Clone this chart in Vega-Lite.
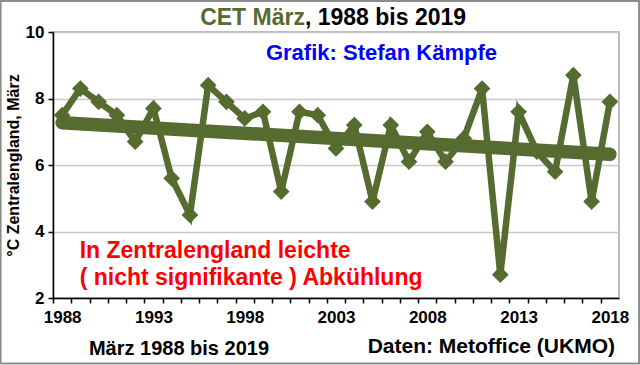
{
  "$schema": "https://vega.github.io/schema/vega-lite/v6.json",
  "width": 566,
  "height": 266,
  "autosize": {"type": "none"},
  "padding": {"left": 53, "top": 32, "right": 21, "bottom": 67},
  "background": "white",
  "config": {
    "font": "Liberation Sans",
    "view": {"stroke": "#a6a6a6", "strokeWidth": 1.5},
    "axisX": {
      "domainColor": "black", "domainWidth": 1.5,
      "tickColor": "black", "tickWidth": 1.5, "tickSize": 5,
      "labelFontSize": 17, "labelFontWeight": "bold", "labelColor": "black",
      "labelPadding": 6, "labelFlush": false, "labelOverlap": false, "grid": false
    },
    "axisY": {
      "domainColor": "black", "domainWidth": 1.5,
      "tickColor": "black", "tickWidth": 1.5, "tickSize": 5,
      "labelFontSize": 17, "labelFontWeight": "bold", "labelColor": "black",
      "labelPadding": 4, "labelFlush": false,
      "grid": true, "gridColor": "#c8c8c8", "gridWidth": 1.5,
      "titleFontSize": 16, "titleFontWeight": "bold", "titleColor": "black", "titlePadding": 4
    }
  },
  "datasets": {
    "cet": [
      {"year": 1988, "temp": 7.5}, {"year": 1989, "temp": 8.3}, {"year": 1990, "temp": 7.9},
      {"year": 1991, "temp": 7.5}, {"year": 1992, "temp": 6.7}, {"year": 1993, "temp": 7.7},
      {"year": 1994, "temp": 5.6}, {"year": 1995, "temp": 4.5}, {"year": 1996, "temp": 8.4},
      {"year": 1997, "temp": 7.9}, {"year": 1998, "temp": 7.4}, {"year": 1999, "temp": 7.6},
      {"year": 2000, "temp": 5.2}, {"year": 2001, "temp": 7.6}, {"year": 2002, "temp": 7.5},
      {"year": 2003, "temp": 6.5}, {"year": 2004, "temp": 7.2}, {"year": 2005, "temp": 4.9},
      {"year": 2006, "temp": 7.2}, {"year": 2007, "temp": 6.1}, {"year": 2008, "temp": 7.0},
      {"year": 2009, "temp": 6.1}, {"year": 2010, "temp": 6.8}, {"year": 2011, "temp": 8.3},
      {"year": 2012, "temp": 2.7}, {"year": 2013, "temp": 7.6}, {"year": 2014, "temp": 6.4},
      {"year": 2015, "temp": 5.8}, {"year": 2016, "temp": 8.7}, {"year": 2017, "temp": 4.9},
      {"year": 2018, "temp": 7.9}
    ],
    "trend": [
      {"year": 1988, "temp": 7.27},
      {"year": 2018, "temp": 6.32}
    ]
  },
  "layer": [
    {
      "data": {"name": "cet"},
      "mark": {"type": "line", "color": "#556B2F", "strokeWidth": 6.5, "strokeJoin": "miter",
               "point": {"shape": "diamond", "size": 280, "filled": true, "color": "#556B2F", "opacity": 1}},
      "encoding": {
        "x": {"field": "year", "type": "quantitative", "title": null,
              "scale": {"domain": [1987.5, 2018.5], "nice": false, "zero": false},
              "axis": {"values": [1988,1989,1990,1991,1992,1993,1994,1995,1996,1997,1998,1999,2000,2001,2002,2003,2004,2005,2006,2007,2008,2009,2010,2011,2012,2013,2014,2015,2016,2017,2018,2019], "tickOffset": -9.13, "labelOffset": 9.13, "labelExpr": "(datum.value % 5 == 3 && datum.value < 2019) ? ('' + datum.value) : ''"}},
        "y": {"field": "temp", "type": "quantitative", "title": "°C Zentralengland, März",
              "scale": {"domain": [2, 10], "nice": false, "zero": false},
              "axis": {"values": [2, 4, 6, 8, 10]}}
      }
    },
    {
      "data": {"name": "trend"},
      "mark": {"type": "line", "color": "#556B2F", "strokeWidth": 13.5, "strokeCap": "round"},
      "encoding": {
        "x": {"field": "year", "type": "quantitative", "title": null,
              "scale": {"domain": [1987.5, 2018.5], "nice": false, "zero": false},
              "axis": {"values": [1988,1989,1990,1991,1992,1993,1994,1995,1996,1997,1998,1999,2000,2001,2002,2003,2004,2005,2006,2007,2008,2009,2010,2011,2012,2013,2014,2015,2016,2017,2018,2019], "tickOffset": -9.13, "labelOffset": 9.13, "labelExpr": "(datum.value % 5 == 3 && datum.value < 2019) ? ('' + datum.value) : ''"}},
        "y": {"field": "temp", "type": "quantitative", "title": "°C Zentralengland, März",
              "scale": {"domain": [2, 10], "nice": false, "zero": false},
              "axis": {"values": [2, 4, 6, 8, 10]}}
      }
    },
    {
      "data": {"values": [{"label": "frame"}]},
      "mark": {"type": "rect", "fill": null, "stroke": "#8c8c8c", "strokeWidth": 2, "clip": false},
      "encoding": {
        "x": {"datum": 1984.63, "type": "quantitative", "title": null,
              "axis": {"values": [1988,1989,1990,1991,1992,1993,1994,1995,1996,1997,1998,1999,2000,2001,2002,2003,2004,2005,2006,2007,2008,2009,2010,2011,2012,2013,2014,2015,2016,2017,2018,2019], "tickOffset": -9.13, "labelOffset": 9.13, "labelExpr": "(datum.value % 5 == 3 && datum.value < 2019) ? ('' + datum.value) : ''"}},
        "x2": {"datum": 2019.6},
        "y": {"datum": 10.93, "type": "quantitative", "title": "°C Zentralengland, März", "axis": {"values": [2, 4, 6, 8, 10]}},
        "y2": {"datum": 0.03}
      }
    },
    {
      "data": {"values": [{"label": "CET März"}]},
      "mark": {"type": "text", "align": "right", "baseline": "middle", "fontSize": 23, "fontWeight": "bold", "color": "#556B2F", "clip": false},
      "encoding": {
        "x": {"datum": 2001.3, "type": "quantitative", "title": null,
              "axis": {"values": [1988,1989,1990,1991,1992,1993,1994,1995,1996,1997,1998,1999,2000,2001,2002,2003,2004,2005,2006,2007,2008,2009,2010,2011,2012,2013,2014,2015,2016,2017,2018,2019], "tickOffset": -9.13, "labelOffset": 9.13, "labelExpr": "(datum.value % 5 == 3 && datum.value < 2019) ? ('' + datum.value) : ''"}},
        "y": {"datum": 10.42, "type": "quantitative", "title": "°C Zentralengland, März", "axis": {"values": [2, 4, 6, 8, 10]}},
        "text": {"field": "label"}}
    },
    {
      "data": {"values": [{"label": ", 1988 bis 2019"}]},
      "mark": {"type": "text", "align": "left", "baseline": "middle", "fontSize": 23, "fontWeight": "bold", "color": "black", "clip": false},
      "encoding": {
        "x": {"datum": 2001.3, "type": "quantitative", "title": null,
              "axis": {"values": [1988,1989,1990,1991,1992,1993,1994,1995,1996,1997,1998,1999,2000,2001,2002,2003,2004,2005,2006,2007,2008,2009,2010,2011,2012,2013,2014,2015,2016,2017,2018,2019], "tickOffset": -9.13, "labelOffset": 9.13, "labelExpr": "(datum.value % 5 == 3 && datum.value < 2019) ? ('' + datum.value) : ''"}},
        "y": {"datum": 10.42, "type": "quantitative", "title": "°C Zentralengland, März", "axis": {"values": [2, 4, 6, 8, 10]}},
        "text": {"field": "label"}}
    },
    {
      "data": {"values": [{"label": "Grafik: Stefan Kämpfe"}]},
      "mark": {"type": "text", "align": "center", "baseline": "middle", "fontSize": 22, "fontWeight": "bold", "color": "#0000FF", "clip": false},
      "encoding": {
        "x": {"datum": 2005.49, "type": "quantitative", "title": null,
              "axis": {"values": [1988,1989,1990,1991,1992,1993,1994,1995,1996,1997,1998,1999,2000,2001,2002,2003,2004,2005,2006,2007,2008,2009,2010,2011,2012,2013,2014,2015,2016,2017,2018,2019], "tickOffset": -9.13, "labelOffset": 9.13, "labelExpr": "(datum.value % 5 == 3 && datum.value < 2019) ? ('' + datum.value) : ''"}},
        "y": {"datum": 9.38, "type": "quantitative", "title": "°C Zentralengland, März", "axis": {"values": [2, 4, 6, 8, 10]}},
        "text": {"field": "label"}}
    },
    {
      "data": {"values": [{"label": "In Zentralengland leichte"}]},
      "mark": {"type": "text", "align": "left", "baseline": "middle", "fontSize": 23, "fontWeight": "bold", "color": "#FF0000", "clip": false},
      "encoding": {
        "x": {"datum": 1988.96, "type": "quantitative", "title": null,
              "axis": {"values": [1988,1989,1990,1991,1992,1993,1994,1995,1996,1997,1998,1999,2000,2001,2002,2003,2004,2005,2006,2007,2008,2009,2010,2011,2012,2013,2014,2015,2016,2017,2018,2019], "tickOffset": -9.13, "labelOffset": 9.13, "labelExpr": "(datum.value % 5 == 3 && datum.value < 2019) ? ('' + datum.value) : ''"}},
        "y": {"datum": 3.42, "type": "quantitative", "title": "°C Zentralengland, März", "axis": {"values": [2, 4, 6, 8, 10]}},
        "text": {"field": "label"}}
    },
    {
      "data": {"values": [{"label": "( nicht signifikante ) Abkühlung"}]},
      "mark": {"type": "text", "align": "left", "baseline": "middle", "fontSize": 23, "fontWeight": "bold", "color": "#FF0000", "clip": false},
      "encoding": {
        "x": {"datum": 1988.96, "type": "quantitative", "title": null,
              "axis": {"values": [1988,1989,1990,1991,1992,1993,1994,1995,1996,1997,1998,1999,2000,2001,2002,2003,2004,2005,2006,2007,2008,2009,2010,2011,2012,2013,2014,2015,2016,2017,2018,2019], "tickOffset": -9.13, "labelOffset": 9.13, "labelExpr": "(datum.value % 5 == 3 && datum.value < 2019) ? ('' + datum.value) : ''"}},
        "y": {"datum": 2.59, "type": "quantitative", "title": "°C Zentralengland, März", "axis": {"values": [2, 4, 6, 8, 10]}},
        "text": {"field": "label"}}
    },
    {
      "data": {"values": [{"label": "März 1988 bis 2019"}]},
      "mark": {"type": "text", "align": "center", "baseline": "middle", "fontSize": 20, "fontWeight": "bold", "color": "black", "clip": false},
      "encoding": {
        "x": {"datum": 1994.4, "type": "quantitative", "title": null,
              "axis": {"values": [1988,1989,1990,1991,1992,1993,1994,1995,1996,1997,1998,1999,2000,2001,2002,2003,2004,2005,2006,2007,2008,2009,2010,2011,2012,2013,2014,2015,2016,2017,2018,2019], "tickOffset": -9.13, "labelOffset": 9.13, "labelExpr": "(datum.value % 5 == 3 && datum.value < 2019) ? ('' + datum.value) : ''"}},
        "y": {"datum": 0.47, "type": "quantitative", "title": "°C Zentralengland, März", "axis": {"values": [2, 4, 6, 8, 10]}},
        "text": {"field": "label"}}
    },
    {
      "data": {"values": [{"label": "Daten: Metoffice (UKMO)"}]},
      "mark": {"type": "text", "align": "right", "baseline": "middle", "fontSize": 21, "fontWeight": "bold", "color": "black", "clip": false},
      "encoding": {
        "x": {"datum": 2018.28, "type": "quantitative", "title": null,
              "axis": {"values": [1988,1989,1990,1991,1992,1993,1994,1995,1996,1997,1998,1999,2000,2001,2002,2003,2004,2005,2006,2007,2008,2009,2010,2011,2012,2013,2014,2015,2016,2017,2018,2019], "tickOffset": -9.13, "labelOffset": 9.13, "labelExpr": "(datum.value % 5 == 3 && datum.value < 2019) ? ('' + datum.value) : ''"}},
        "y": {"datum": 0.53, "type": "quantitative", "title": "°C Zentralengland, März", "axis": {"values": [2, 4, 6, 8, 10]}},
        "text": {"field": "label"}}
    }
  ]
}
